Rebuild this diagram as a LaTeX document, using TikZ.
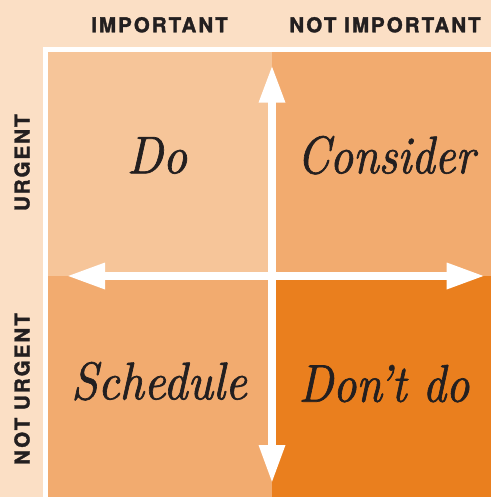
\documentclass[tikz,border=0pt]{standalone}
\usepackage{fontspec}
\newfontfamily\capfont{TeX Gyre Heros}[LetterSpace=10, BoldFeatures={FakeBold=1.6}]
\newfontfamily\qfont{lmroman10-italic}[Extension=.otf, FakeStretch=0.86, FakeBold=1.2]
\definecolor{bg}{HTML}{FBDFC5}
\definecolor{ql}{HTML}{F6C599}
\definecolor{qm}{HTML}{F2AB6F}
\definecolor{qd}{HTML}{EA7F1E}
\definecolor{ink}{HTML}{231F20}
\begin{document}
\begin{tikzpicture}[x=1pt,y=-1pt,
  caplab/.style={inner sep=0pt, anchor=base, text=ink, font=\capfont\bfseries\fontsize{20.5}{20.5}\selectfont},
  qlab/.style={inner sep=0pt, anchor=base, text=ink, font=\qfont\fontsize{53}{53}\selectfont},
  shaft/.style={draw=white, line width=8pt},
  head/.style={fill=white}]
\useasboundingbox (0,0) rectangle (491,497);
\fill[bg] (0,0) rectangle (491,497);
\fill[white] (43,47) rectangle (491,497);
\fill[ql] (48,52) rectangle (272,276);
\fill[qm] (272,52) rectangle (491,276);
\fill[qm] (48,276) rectangle (272,497);
\fill[qd] (272,276) rectangle (491,497);
% arrows
\coordinate (tt) at (272,66.7);
\coordinate (bt) at (272,481.7);
\coordinate (lt) at (68.3,276);
\coordinate (rt) at (483.3,276);
\coordinate (ts) at (272,101);
\coordinate (bs) at (272,447);
\coordinate (ls) at (103,276);
\coordinate (rs) at (448,276);
\draw[shaft] (ts) -- (bs);
\draw[shaft] (ls) -- (rs);
\fill[head] (tt) -- ++(-13.5,36) -- ++(27,0) -- cycle;
\fill[head] (bt) -- ++(-13.5,-36.7) -- ++(27,0) -- cycle;
\fill[head] (lt) -- ++(36.7,-13.5) -- ++(0,27) -- cycle;
\fill[head] (rt) -- ++(-36.6,-13.5) -- ++(0,27) -- cycle;
% axis labels
\node[caplab] (imp) at (159.5,32.3) {IMPORTANT};
\node[caplab] (nimp) at (385,32.3) {NOT IMPORTANT};
\node[caplab, rotate=90] (urg) at (29.5,162.7) {URGENT};
\node[caplab, rotate=90] (nurg) at (29.5,389) {NOT URGENT};
% quadrant labels
\node[qlab] (do) at (157,173.3) {\scalebox{1.04}[1]{Do}};
\node[qlab] (con) at (386,173.3) {Consider};
\node[qlab] (sch) at (159,399.3) {\scalebox{1.04}[1]{Schedule}};
\node[qlab] (dont) at (384,401.7) {Don’t do};
\end{tikzpicture}
\end{document}
